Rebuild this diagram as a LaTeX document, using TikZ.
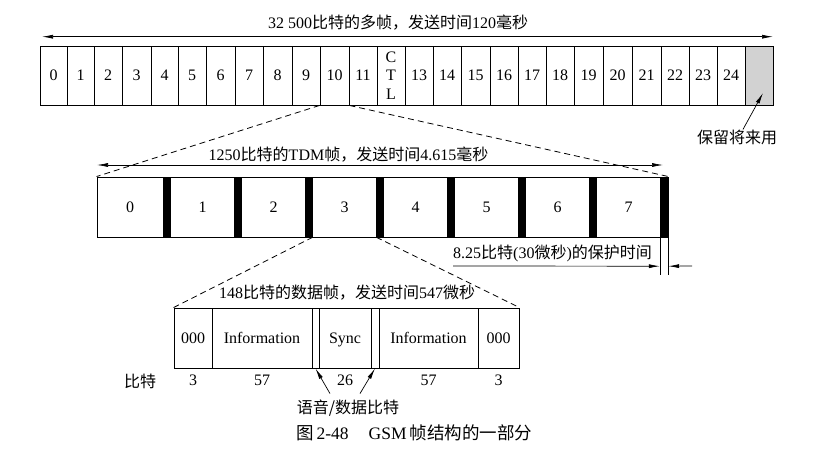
\documentclass[tikz,border=0pt]{standalone}
\usepackage{fontspec}
\setmainfont{Liberation Serif}
\newfontfamily\cjk{Noto Sans CJK SC}
\newcommand\zh[1]{{\cjk #1}}
\usetikzlibrary{arrows.meta,calc}
\begin{document}
\begin{tikzpicture}[x=1pt,y=-1pt,
  font=\fontsize{16}{18.5}\selectfont,
  cell/.style={draw, line width=0.9pt, inner sep=0pt, minimum height=59pt, align=center},
  dcell/.style={draw, line width=0.9pt, inner sep=0pt, minimum height=60pt, text height=10pt, text depth=0pt},
  slot/.style={inner sep=0pt, minimum height=60pt},
  gbar/.style={fill=black, draw=none, inner sep=0pt, minimum width=8pt, minimum height=60pt},
  dline/.style={dash pattern=on 6pt off 4pt, line width=0.8pt},
  arr/.style={-{Latex[length=11pt,width=4pt]}, line width=0.7pt},
  darr/.style={{Latex[length=11pt,width=4pt]}-{Latex[length=11pt,width=4pt]}, line width=0.7pt},
  txt/.style={inner sep=0pt}]
\useasboundingbox (0,0) rectangle (831,452);
% ---- multiframe ----
\foreach \l/\r/\t [count=\i from 0] in {40/67/0,67/94/1,94/122/2,122/151/3,151/178/4,178/206/5,206/235/6,235/263/7,263/292/8,292/320/9,320/349/10,349/377/11,377/405/{C\\T\\L},405/433/13,433/461/14,461/490/15,490/518/16,518/546/17,546/574/18,574/603/19,603/632/20,632/661/21,661/689/22,689/717/23,717/745/24}{
  \pgfmathsetmacro\w{\r-\l}
  \pgfmathsetmacro\cx{(\l+\r)/2}
  \node[cell, minimum width=\w pt] (c\i) at (\cx,75.5) {\t};
}
\node[cell, fill=gray!35, minimum width=28pt] (c25) at (759,75.5) {};
\coordinate (mfL) at (42,36.7);
\coordinate (mfR) at (773,36.7);
\draw[darr] (mfL) -- (mfR);
\node[txt] (mflbl) at (398,23) {32 500\zh{比特的多帧，发送时间}120\zh{毫秒}};
\node[txt] (reslbl) at (737,137) {\zh{保留将来用}};
\coordinate (restip) at (763,93);
\draw[arr] ([xshift=6pt]reslbl.north) -- (restip);
% ---- TDM frame ----
\node[draw, line width=0.9pt, inner sep=0pt, minimum width=571pt, minimum height=60pt] (tdm) at (382.5,207) {};
\node[slot, minimum width=66pt] (s0) at (130,207) {0};
\foreach \i in {1,...,7}{
  \node[slot, minimum width=63pt] (s\i) at ({131.5+71*\i},207) {\i};
}
\foreach \i in {0,...,7}{
  \node[gbar] (g\i) at ({167+71*\i},207) {};
}
\coordinate (tdL) at (97,165);
\coordinate (tdR) at (663,165);
\draw[darr] (tdL) -- (tdR);
\node[txt] (tdmlbl) at (348.5,155) {1250\zh{比特的}TDM\zh{帧，发送时间}4.615\zh{毫秒}};
\draw[dline] (c10.south west) -- (tdm.north west);
\draw[dline] (c10.south east) -- (tdm.north east);
% guard time
\coordinate (gv1t) at (g7.south west);
\coordinate (gv1b) at ($(g7.south west)+(0,38)$);
\coordinate (gv2t) at (g7.south east);
\coordinate (gv2b) at ($(g7.south east)+(0,38)$);
\draw[line width=0.5pt] (gv1t) -- (gv1b);
\draw[line width=0.5pt] (gv2t) -- (gv2b);
\coordinate (ga) at (453,266);
\coordinate (gat) at ($(g7.south west)+(0,29)$);
\coordinate (gb) at (692,266);
\coordinate (gbt) at ($(g7.south east)+(0,29)$);
\draw[arr] (ga) -- (gat);
\draw[arr] (gb) -- (gbt);
\node[txt, anchor=west] (guardlbl) at (453,253) {8.25\zh{比特}(30\zh{微秒})\zh{的保护时间}};
% ---- data frame ----
\node[dcell, minimum width=38pt] (d0) at (193,338) {000};
\node[dcell, minimum width=100pt] (d1) at (262,338) {Information};
\node[dcell, minimum width=7pt] (d2) at (315.5,338) {};
\node[dcell, minimum width=52pt] (d3) at (345,338) {Sync};
\node[dcell, minimum width=8pt] (d4) at (375,338) {};
\node[dcell, minimum width=99pt] (d5) at (428.5,338) {Information};
\node[dcell, minimum width=41pt] (d6) at (498.5,338) {000};
\draw[dline] (s3.south west) -- (d0.north west);
\draw[dline] (s3.south east) -- (d6.north east);
\node[txt] (dflbl) at (347,293) {148\zh{比特的数据帧，发送时间}547\zh{微秒}};
\coordinate (bitrow) at (0,380);
\node[txt] (bitslbl) at (140,381) {\zh{比特}};
\node[txt] (b0) at (d0 |- bitrow) {3};
\node[txt] (b1) at (d1 |- bitrow) {57};
\node[txt] (b3) at (d3 |- bitrow) {26};
\node[txt] (b5) at (d5 |- bitrow) {57};
\node[txt] (b6) at (d6 |- bitrow) {3};
\node[txt] (vdlbl) at (348,408) {\zh{语音/数据比特}};
\draw[arr] ([xshift=-18pt,yshift=6pt]vdlbl.north) -- (d2.south);
\draw[arr] ([xshift=12pt,yshift=6pt]vdlbl.north) -- (d4.south);
% caption
\node[txt, anchor=west, font=\fontsize{17.5}{20}\selectfont] (caption) at (296,433) {\zh{图}\,2-48\hspace{20pt}GSM\,\zh{帧结构的一部分}};
\end{tikzpicture}
\end{document}
